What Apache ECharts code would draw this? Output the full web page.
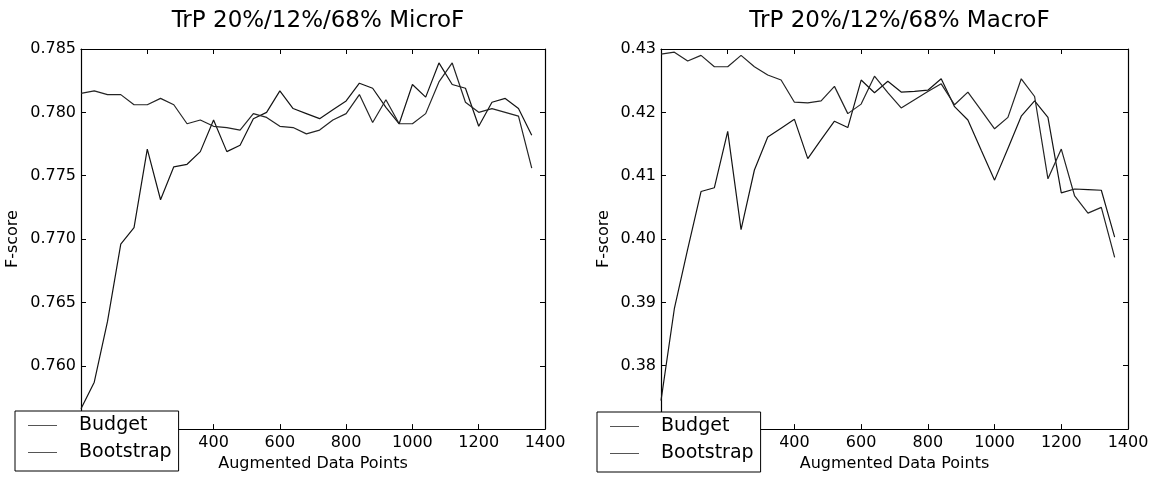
<!DOCTYPE html>
<html>
<head>
<meta charset="utf-8">
<title>TrP 20%/12%/68% F-score</title>
<script src="https://cdn.jsdelivr.net/npm/echarts@6/dist/echarts.min.js"></script>
<style>
  html, body { margin: 0; padding: 0; background: #fff; }
  #chart { width: 1152px; height: 477px; }
</style>
</head>
<body>
<div id="chart"></div>
<script>
// Number of augmented data points at each evaluation step
const augmentedPoints = [0, 40, 80, 120, 160, 200, 240, 280, 320, 360, 400, 440, 480, 520, 560, 600, 640, 680,
  720, 760, 800, 840, 880, 920, 960, 1000, 1040, 1080, 1120, 1160, 1200, 1240, 1280, 1320, 1360];

// Micro-averaged F-score
const budgetMicro = [0.7566, 0.7587, 0.7635, 0.7696, 0.7709, 0.7771, 0.7731, 0.7757, 0.7759, 0.7769, 0.7794, 0.7769,
  0.7774, 0.7795, 0.7800, 0.7817, 0.7803, 0.7799, 0.7795, 0.7802, 0.7809, 0.7823, 0.7819, 0.7804, 0.7791, 0.7822,
  0.7812, 0.7839, 0.7822, 0.7819, 0.7789, 0.7808, 0.7811, 0.7803, 0.7782];
const bootstrapMicro = [0.7815, 0.7817, 0.7814, 0.7814, 0.7806, 0.7806, 0.7811, 0.7806, 0.7791, 0.7794, 0.7789, 0.7788,
  0.7786, 0.7799, 0.7796, 0.7789, 0.7788, 0.7783, 0.7786, 0.7794, 0.7799, 0.7814, 0.7792, 0.7810, 0.7791, 0.7791,
  0.7799, 0.7824, 0.7839, 0.7808, 0.7800, 0.7803, 0.7800, 0.7797, 0.7756];

// Macro-averaged F-score
const budgetMacro = [0.3745, 0.3890, 0.3984, 0.4075, 0.4081, 0.4170, 0.4015, 0.4109, 0.4161, 0.4175, 0.4189, 0.4127,
  0.4157, 0.4186, 0.4176, 0.4251, 0.4231, 0.4249, 0.4232, 0.4233, 0.4235, 0.4253, 0.4209, 0.4188, 0.4140, 0.4093,
  0.4143, 0.4194, 0.4218, 0.4192, 0.4073, 0.4079, 0.4078, 0.4077, 0.4003];
const bootstrapMacro = [0.4292, 0.4295, 0.4281, 0.4290, 0.4272, 0.4272, 0.4290, 0.4272, 0.4259, 0.4251, 0.4216, 0.4215,
  0.4218, 0.4241, 0.4198, 0.4213, 0.4257, 0.4231, 0.4207, 0.4220, 0.4233, 0.4245, 0.4212, 0.4232, 0.4203, 0.4174,
  0.4192, 0.4253, 0.4225, 0.4095, 0.4142, 0.4068, 0.4041, 0.4050, 0.3971];

// Axis ticks
const xTicks = { min: 0, max: 1400, step: 200 };
const yTicksMicro = { min: 0.755, max: 0.785, step: 0.005, digits: 3 };
const yTicksMacro = { min: 0.37, max: 0.43, step: 0.01, digits: 2 };

const titles = ['TrP 20%/12%/68% MicroF', 'TrP 20%/12%/68% MacroF'];
const seriesNames = ['Budget', 'Bootstrap'];

const FONT = 'DejaVu Sans';
const INK = '#000';
const lineColors = ['#141414', '#242424'];

const panels = [
  { grid: { left: 81, top: 49, width: 464, height: 384 }, y: yTicksMicro, yNameGap: 60,
    budget: budgetMicro, bootstrap: bootstrapMicro, legendLeft: 15, legendTop: 411 },
  { grid: { left: 661, top: 49, width: 467, height: 384 }, y: yTicksMacro, yNameGap: 49,
    budget: budgetMacro, bootstrap: bootstrapMacro, legendLeft: 597, legendTop: 412 }
];

const pairs = (ys) => augmentedPoints.map((x, i) => [x, ys[i]]);

const frameLine = { show: true, onZero: false, lineStyle: { color: INK, width: 1.2 } };
const innerTick = { show: true, inside: true, length: 5, lineStyle: { color: INK, width: 1 } };
const tickFont = { fontFamily: FONT, fontSize: 16, color: INK };

const option = {
  backgroundColor: '#fff',
  animation: false,
  title: [], grid: [], xAxis: [], yAxis: [], series: [], legend: []
};

panels.forEach((p, g) => {
  option.grid.push(Object.assign({ containLabel: false }, p.grid));
  option.title.push({
    text: titles[g],
    left: p.grid.left + p.grid.width / 2,
    textAlign: 'center',
    top: 5,
    textStyle: { fontFamily: FONT, fontSize: 23, fontWeight: 'normal', color: INK }
  });
  // bottom and top x axes (top one only carries the frame and inward ticks)
  option.xAxis.push({
    gridIndex: g, type: 'value', position: 'bottom',
    min: xTicks.min, max: xTicks.max, interval: xTicks.step,
    axisLine: frameLine, axisTick: innerTick, splitLine: { show: false },
    axisLabel: Object.assign({ margin: 6, formatter: (v) => String(v) }, tickFont),
    name: 'Augmented Data Points', nameLocation: 'middle', nameGap: 23,
    nameTextStyle: { fontFamily: FONT, fontSize: 16, color: INK }
  });
  option.xAxis.push({
    gridIndex: g, type: 'value', position: 'top',
    min: xTicks.min, max: xTicks.max, interval: xTicks.step,
    axisLine: frameLine, axisTick: innerTick, splitLine: { show: false },
    axisLabel: { show: false }
  });
  option.yAxis.push({
    gridIndex: g, type: 'value', position: 'left',
    min: p.y.min, max: p.y.max, interval: p.y.step,
    axisLine: frameLine, axisTick: innerTick, splitLine: { show: false },
    axisLabel: Object.assign({ margin: 5, formatter: (v) => v.toFixed(p.y.digits) }, tickFont),
    name: 'F-score', nameLocation: 'middle', nameGap: p.yNameGap, nameRotate: 90,
    nameTextStyle: { fontFamily: FONT, fontSize: 16, color: INK }
  });
  option.yAxis.push({
    gridIndex: g, type: 'value', position: 'right',
    min: p.y.min, max: p.y.max, interval: p.y.step,
    axisLine: frameLine, axisTick: innerTick, splitLine: { show: false },
    axisLabel: { show: false }
  });

  [p.budget, p.bootstrap].forEach((ys, k) => {
    option.series.push({
      name: seriesNames[k], type: 'line',
      xAxisIndex: g * 2, yAxisIndex: g * 2,
      data: pairs(ys),
      symbol: 'none', smooth: false, clip: true,
      lineStyle: { color: lineColors[k], width: 1.2 },
      itemStyle: { color: lineColors[k] },
      z: 2
    });
  });

  option.legend.push({
    left: p.legendLeft, top: p.legendTop,
    orient: 'vertical',
    data: seriesNames,
    selectedMode: false,
    icon: 'rect', itemWidth: 29, itemHeight: 1, itemGap: 6,
    itemStyle: { color: '#555' },
    backgroundColor: '#fff', borderColor: INK, borderWidth: 1, borderRadius: 0,
    padding: [4, 7, 8, 13],
    textStyle: { fontFamily: FONT, fontSize: 19, color: INK, lineHeight: 21, padding: [0, 0, 0, 17] },
    z: 10
  });
});

const chart = echarts.init(document.getElementById('chart'), null, { renderer: 'canvas' });
chart.setOption(option);
</script>
</body>
</html>
